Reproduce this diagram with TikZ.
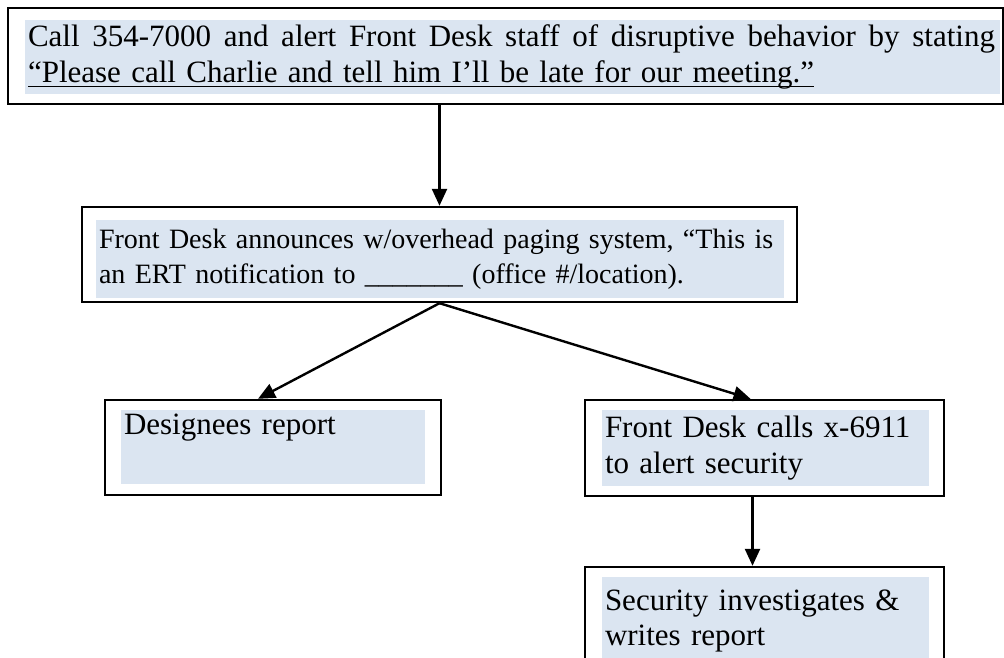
\documentclass[tikz,border=0pt]{standalone}
\usepackage{fontspec}
\setmainfont{Liberation Serif}
\usepackage{tikz}
\usetikzlibrary{arrows.meta}
\definecolor{deskblue}{HTML}{DBE5F1}
\newcommand{\meetline}[1]{\leavevmode\setbox0\hbox{#1}\rlap{\rule[-5pt]{\wd0}{1.6pt}}\box0}

\begin{document}
\begin{tikzpicture}[x=1pt,y=-1pt,
  frame/.style={draw,line width=2.4pt,minimum width=#1,inner sep=0pt},
  shade/.style={fill=deskblue,text width=#1,align=left,inner xsep=3pt,inner ysep=0pt,
    font=\fontsize{31}{35.5}\selectfont},
  flow/.style={line width=2.4pt,-{Triangle[length=17pt,width=15pt]}}]

\useasboundingbox (0,0) rectangle (1004,658);

% boxes
\node[frame=995pt,minimum height=96pt] (call) at (505.5,56) {};
\node[shade=969pt,minimum height=74pt] (callText) at (512.5,57)
  {\hbox to 967pt{\spaceskip=7.75pt plus 20pt Call 354-7000 and alert Front Desk staff of disruptive behavior by stating}\\
   \meetline{“Please call Charlie and tell him I’ll be late for our meeting.”}};

\node[frame=715pt,minimum height=95pt] (page) at (439.5,254.5) {};
\node[shade=682pt,minimum height=78pt,font=\fontsize{28}{35}\selectfont] (pageText) at (440,259)
  {Front Desk announces w/overhead paging system, “This is\\
   an ERT notification to \_\_\_\_\_\_\_ (office \#/location).};

\node[frame=336pt,minimum height=95pt] (designees) at (273,447.5) {};
\node[shade=298pt,minimum height=74pt] (designeesText) at (273,447)
  {Designees report\\ \strut};

\node[frame=359pt,minimum height=96pt] (security) at (764.5,448) {};
\node[shade=321pt,minimum height=76pt] (securityText) at (765.5,448)
  {Front Desk calls x-6911\\ to alert security};

\node[frame=359pt,minimum height=110pt] (report) at (764.5,622) {};
\node[shade=321pt,minimum height=88pt] (reportText) at (765.5,621)
  {Security investigates \&\\ writes report};

% arrows
\draw[flow] (page.north |- call.south) -- (page.north);
\draw[flow] (page.south) -- ([xshift=-15pt]designees.north);
\draw[flow] (page.south) -- ([xshift=-14pt]security.north);
\draw[flow] ([xshift=-12pt]security.south) -- ([xshift=-12pt]report.north);
\end{tikzpicture}
\end{document}
